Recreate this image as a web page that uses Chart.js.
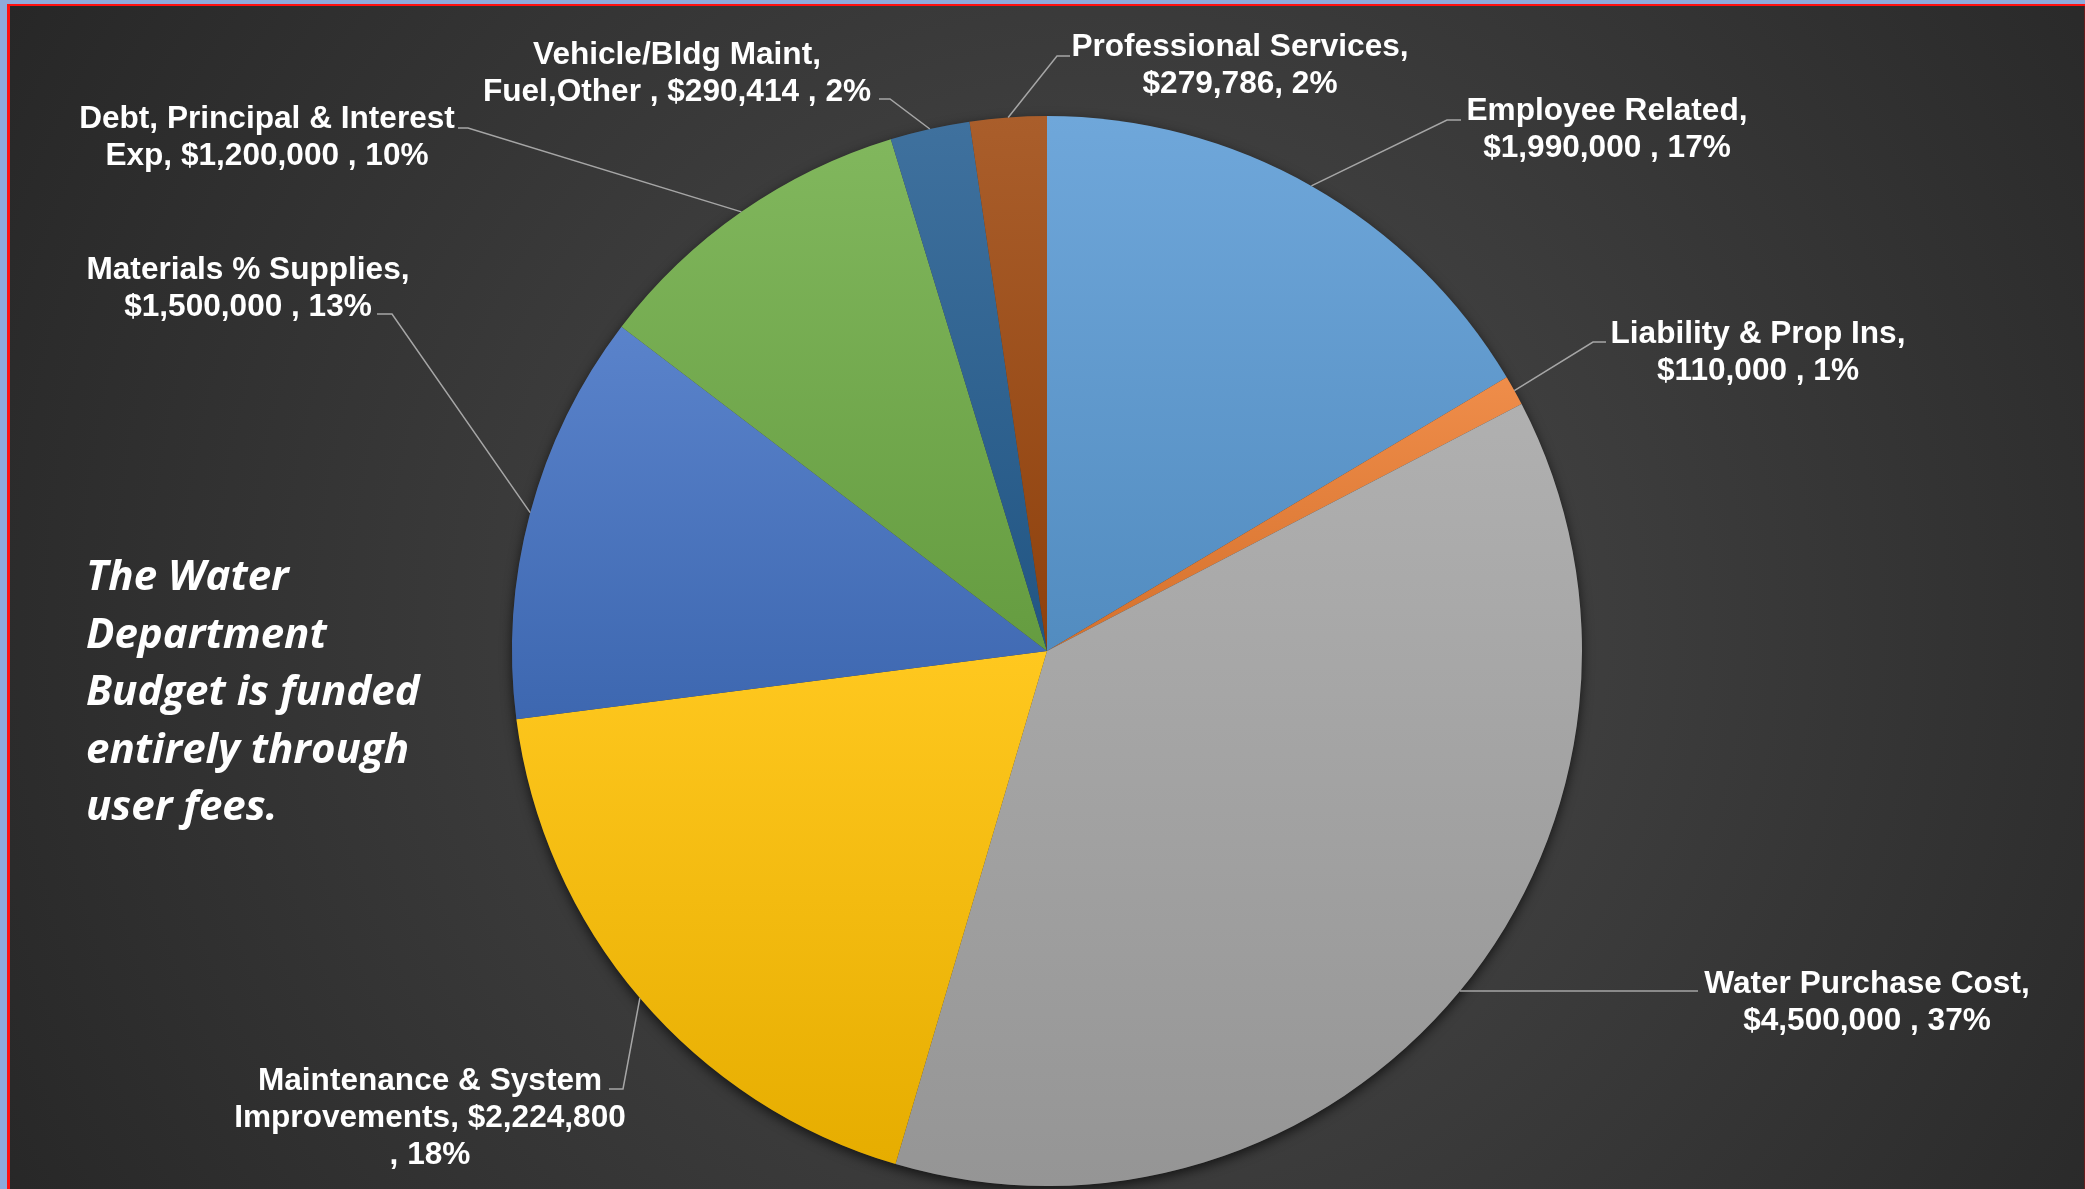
<!DOCTYPE html>
<html lang="en">
<head>
<meta charset="UTF-8">
<title>Water Department Budget</title>
<script src="https://cdn.jsdelivr.net/npm/chart.js"></script>
<style>
  html, body { margin: 0; padding: 0; background: #8eaadb; overflow: hidden; }
  #budgetChart { display: block; }
</style>
</head>
<body>
<canvas id="budgetChart" width="2085" height="1189"></canvas>
<script>
// budget lines, clockwise from 12 o'clock
const categories = [
  'Employee Related', 'Liability & Prop Ins', 'Water Purchase Cost',
  'Maintenance & System Improvements', 'Materials % Supplies',
  'Debt, Principal & Interest Exp', 'Vehicle/Bldg Maint, Fuel,Other',
  'Professional Services'
];
const amounts = [1990000, 110000, 4500000, 2224800, 1500000, 1200000, 290414, 279786];
const labelText = [
  ['Employee Related,', '$1,990,000 , 17%'],
  ['Liability & Prop Ins,', '$110,000 , 1%'],
  ['Water Purchase Cost,', '$4,500,000 , 37%'],
  ['Maintenance & System', 'Improvements, $2,224,800', ', 18%'],
  ['Materials % Supplies,', '$1,500,000 , 13%'],
  ['Debt, Principal & Interest', 'Exp, $1,200,000 , 10%'],
  ['Vehicle/Bldg Maint,', 'Fuel,Other , $290,414 , 2%'],
  ['Professional Services,', '$279,786, 2%']
];
const sliceColors = ['#5b9bd5', '#ed7d31', '#a5a5a5', '#ffc000', '#4472c4', '#70ad47', '#255e91', '#9e480e'];
const noteLines = ['The Water', 'Department', 'Budget is funded', 'entirely through', 'user fees.'];

// where each data label sits (text centre, first line) and its leader elbow
const labelLayout = [
  { x: 1607, y: 111, elbow: [1447, 120], end: 1461 },
  { x: 1758, y: 334, elbow: [1593, 342], end: 1606 },
  { x: 1867, y: 984, elbow: null, end: 1698 },
  { x: 430, y: 1081, elbow: [623, 1089], end: 609 },
  { x: 248, y: 270, elbow: [392, 314], end: 377 },
  { x: 267, y: 119, elbow: [468, 128], end: 458 },
  { x: 677, y: 55, elbow: [890, 99], end: 879 },
  { x: 1240, y: 47, elbow: [1057, 56], end: 1070 }
];

function mix(hex, target, t) {
  const n = parseInt(hex.slice(1), 16);
  const c = [(n >> 16) & 255, (n >> 8) & 255, n & 255];
  return 'rgb(' + c.map(v => Math.round(v + (target - v) * t)).join(',') + ')';
}

const backgroundPlugin = {
  id: 'slideBackground',
  beforeDraw(chart) {
    const ctx = chart.ctx, W = chart.width, H = chart.height;
    ctx.save();
    ctx.fillStyle = '#8eaadb';
    ctx.fillRect(0, 0, W, H);
    ctx.fillStyle = '#ff1010';
    ctx.fillRect(7, 4, W - 7, H - 4);
    const g = ctx.createRadialGradient(1100, 620, 0, 1100, 620, 1250);
    g.addColorStop(0, '#4c4c4c');
    g.addColorStop(1, '#272727');
    ctx.fillStyle = g;
    ctx.fillRect(10, 6, W - 11, H - 6);
    ctx.fillStyle = '#6a1c1c';
    ctx.fillRect(W - 1, 6, 1, H - 6);
    ctx.restore();
  }
};

const sliceStylePlugin = {
  id: 'sliceStyle',
  beforeDatasetsDraw(chart) {
    const ctx = chart.ctx;
    const arcs = chart.getDatasetMeta(0).data;
    if (!arcs.length) return;
    const a0 = arcs[0];
    // drop shadow under the whole pie
    ctx.save();
    ctx.shadowColor = 'rgba(0,0,0,0.65)';
    ctx.shadowBlur = 12;
    ctx.shadowOffsetY = 4;
    ctx.fillStyle = '#3a3a3a';
    ctx.beginPath();
    ctx.arc(a0.x, a0.y, a0.outerRadius, 0, Math.PI * 2);
    ctx.fill();
    ctx.restore();
    // vertical gradient per slice, lighter at the top
    arcs.forEach((arc, i) => {
      const ys = [arc.y];
      const pts = [arc.startAngle, arc.endAngle];
      [-Math.PI / 2, Math.PI / 2, 1.5 * Math.PI].forEach(a => {
        if (a > arc.startAngle && a < arc.endAngle) pts.push(a);
      });
      pts.forEach(a => ys.push(arc.y + Math.sin(a) * arc.outerRadius));
      const top = Math.min(...ys), bottom = Math.max(...ys);
      const g = ctx.createLinearGradient(0, top, 0, bottom);
      g.addColorStop(0, mix(sliceColors[i], 255, 0.12));
      g.addColorStop(1, mix(sliceColors[i], 0, 0.1));
      arc.options = Object.assign({}, arc.options, { backgroundColor: g });
    });
  }
};

const labelPlugin = {
  id: 'leaderLabels',
  afterDatasetsDraw(chart) {
    const ctx = chart.ctx;
    const arcs = chart.getDatasetMeta(0).data;
    ctx.save();
    ctx.strokeStyle = '#a6a6a6';
    ctx.lineWidth = 1.5;
    arcs.forEach((arc, i) => {
      const lay = labelLayout[i];
      const mid = (arc.startAngle + arc.endAngle) / 2;
      const sx = arc.x + Math.cos(mid) * arc.outerRadius;
      const sy = arc.y + Math.sin(mid) * arc.outerRadius;
      ctx.beginPath();
      ctx.moveTo(sx, sy);
      if (lay.elbow) {
        ctx.lineTo(lay.elbow[0], lay.elbow[1]);
        ctx.lineTo(lay.end, lay.elbow[1]);
      } else {
        ctx.lineTo(lay.end, sy);
      }
      ctx.stroke();
    });
    ctx.fillStyle = '#ffffff';
    ctx.font = 'bold 31.6px "Liberation Sans", Arial, sans-serif';
    ctx.textAlign = 'center';
    ctx.textBaseline = 'middle';
    labelText.forEach((lines, i) => {
      const lay = labelLayout[i];
      lines.forEach((t, k) => ctx.fillText(t, lay.x, lay.y + k * 37));
    });
    ctx.restore();
  },
  afterDraw(chart) {
    const ctx = chart.ctx;
    ctx.save();
    ctx.fillStyle = '#ffffff';
    ctx.font = 'italic bold 42px "Open Sans", sans-serif';
    ctx.textAlign = 'left';
    ctx.textBaseline = 'alphabetic';
    noteLines.forEach((t, k) => ctx.fillText(t, 86, 590 + k * 57.5));
    ctx.restore();
  }
};

new Chart(document.getElementById('budgetChart'), {
  type: 'pie',
  data: {
    labels: categories,
    datasets: [{
      data: amounts,
      backgroundColor: sliceColors,
      borderWidth: 0
    }]
  },
  options: {
    responsive: false,
    animation: false,
    events: [],
    layout: { padding: { left: 9, right: 0, top: 116, bottom: 3 } },
    plugins: {
      legend: { display: false },
      tooltip: { enabled: false }
    }
  },
  plugins: [backgroundPlugin, sliceStylePlugin, labelPlugin]
});
</script>
</body>
</html>
